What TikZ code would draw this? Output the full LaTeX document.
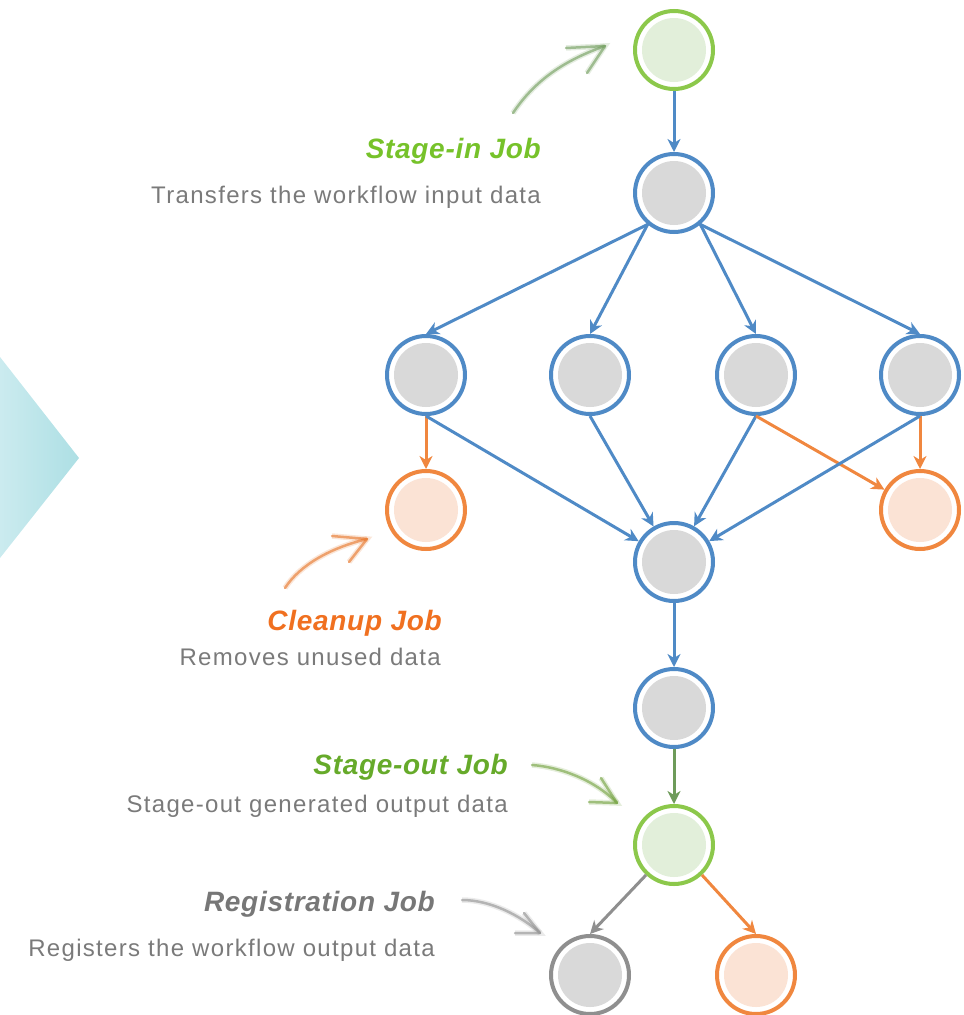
\documentclass[tikz,border=0pt]{standalone}
\usepackage{fontspec}
\setmainfont{Liberation Sans}
\usetikzlibrary{arrows.meta}
\definecolor{eblue}{HTML}{4F8AC6}
\definecolor{eorange}{HTML}{F0873F}
\definecolor{egreen}{HTML}{8CC84B}
\definecolor{edgreen}{HTML}{6E9B5A}
\definecolor{egray}{HTML}{8F8F8F}
\definecolor{fgray}{HTML}{D9D9D9}
\definecolor{fgreen}{HTML}{E2EFDA}
\definecolor{forange}{HTML}{FBE3D5}
\definecolor{tgreen}{HTML}{76C22A}
\definecolor{tdgreen}{HTML}{66AA2A}
\definecolor{torange}{HTML}{F07020}
\definecolor{tgray}{HTML}{777777}
\definecolor{dgray}{HTML}{7A7A7A}
\definecolor{trileft}{HTML}{CBEBEF}
\definecolor{triright}{HTML}{ADDFE4}
\tikzset{
  jobnode/.style 2 args={circle, draw=#1, line width=4pt, fill=white,
    minimum size=78pt, inner sep=0pt,
    path picture={\fill[#2] (path picture bounding box.center) circle (32pt);}},
  bluejob/.style={jobnode={eblue}{fgray}},
  greenjob/.style={jobnode={egreen}{fgreen}},
  orangejob/.style={jobnode={eorange}{forange}},
  grayjob/.style={jobnode={egray}{fgray}},
  edge/.style={draw=#1, line width=3pt, -{Stealth[length=13pt,width=13pt,inset=4pt]}},
  sketch/.style={draw=#1, line width=2.5pt, opacity=.6, line cap=round, line join=round,
    preaction={draw=#1, line width=5.5pt, opacity=.18}},
  title/.style={anchor=base east, inner sep=0pt,
    font=\bfseries\itshape\fontsize{28}{30}\selectfont\addfontfeatures{LetterSpace=2.5}},
  desc/.style={anchor=base east, inner sep=0pt, text=dgray,
    font=\fontsize{24}{26}\selectfont\addfontfeatures{LetterSpace=5.5}},
}
\begin{document}
\begin{tikzpicture}[x=1pt,y=-1pt]
\useasboundingbox (0,0) rectangle (964,1015);
% left triangle
\shade[left color=trileft, right color=triright] (0,357) -- (79,458) -- (0,558) -- cycle;
% nodes
\node[greenjob] (s0) at (674,50) {};
\node[bluejob] (n1) at (674,193) {};
\node[bluejob] (r1) at (426,375) {};
\node[bluejob] (r2) at (590,375) {};
\node[bluejob] (r3) at (756,375) {};
\node[bluejob] (r4) at (920,375) {};
\node[orangejob] (c1) at (426,510) {};
\node[orangejob] (c2) at (920,510) {};
\node[bluejob] (m) at (674,562) {};
\node[bluejob] (n5) at (674,708) {};
\node[greenjob] (so) at (674,845) {};
\node[grayjob] (g) at (590,975) {};
\node[orangejob] (o) at (756,975) {};
% edges
\draw[edge=eblue] (s0) -- (n1);
\draw[edge=eblue] (n1.230) -- (r1.north);
\draw[edge=eblue] (n1.230) -- (r2.north);
\draw[edge=eblue] (n1.310) -- (r3.north);
\draw[edge=eblue] (n1.310) -- (r4.north);
\draw[edge=eorange] (r1) -- (c1);
\draw[edge=eorange] (r4) -- (c2);
\draw[edge=eblue] (r1.south) -- (m);
\draw[edge=eblue] (r2.south) -- (m);
\draw[edge=eblue] (r3.south) -- (m);
\draw[edge=eorange] (r3.south) -- (c2);
\draw[edge=eblue] (r4.south) -- (m);
\draw[edge=eblue] (m) -- (n5);
\draw[edge=edgreen] (n5) -- (so);
\draw[edge=egray] (so.227) -- (g.north);
\draw[edge=eorange] (so.313) -- (o.north);
% labels
\node[title, text=tgreen] (t1) at (541,158) {Stage-in Job};
\node[desc] (d1) at (541,203) {Transfers the workflow input data};
\node[title, text=torange] (t2) at (442,630) {Cleanup Job};
\node[desc] (d2) at (441,665) {Removes unused data};
\node[title, text=tdgreen] (t3) at (508,774) {Stage-out Job};
\node[desc] (d3) at (508,812) {Stage-out generated output data};
\node[title, text=tgray] (t4) at (435,911) {Registration Job};
\node[desc] (d4) at (435,956) {Registers the workflow output data};
% sketch arrows
\coordinate (a1s) at (513,113); \coordinate (a1t) at (605,46);
\draw[sketch=edgreen] (a1s) .. controls (535,80) and (565,60) .. (a1t);
\draw[sketch=edgreen] (566,48) -- (a1t) -- (587,73);
\coordinate (a2s) at (285,588); \coordinate (a2t) at (367,539);
\draw[sketch=torange!80!brown] (a2s) .. controls (300,565) and (330,548) .. (a2t);
\draw[sketch=torange!80!brown] (332,536) -- (a2t) -- (349,562);
\coordinate (a3s) at (532,765); \coordinate (a3t) at (617,803);
\draw[sketch=egreen!80!black] (a3s) .. controls (560,767) and (595,780) .. (a3t);
\draw[sketch=egreen!80!black] (601,778) -- (a3t) -- (589,802);
\coordinate (a4s) at (462,900); \coordinate (a4t) at (540,933);
\draw[sketch=egray] (a4s) .. controls (490,900) and (520,915) .. (a4t);
\draw[sketch=egray] (524,913) -- (a4t) -- (515,933);
\end{tikzpicture}
\end{document}
